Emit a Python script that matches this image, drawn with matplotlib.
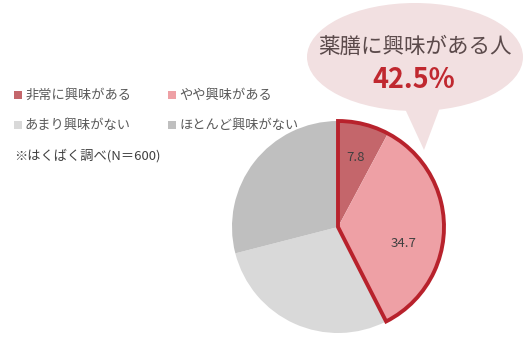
import matplotlib.pyplot as plt
from matplotlib.patches import Wedge, Ellipse, Polygon, Rectangle
import numpy as np

plt.rcParams['font.family'] = ['Noto Sans CJK JP', 'DejaVu Sans']

# data
categories = ["非常に興味がある", "やや興味がある", "あまり興味がない", "ほとんど興味がない"]
values = [7.8, 34.7, 28.5, 29.0]
shown_labels = ["7.8", "34.7", "", ""]
colors = ["#c4666b", "#eea0a5", "#d9d9d9", "#bfbfbf"]
highlight_title = "薬膳に興味がある人"
highlight_value = values[0] + values[1]
note = "※はくばく調べ(N＝600)"

W, H = 527, 347
fig = plt.figure(figsize=(W / 100, H / 100), dpi=100)
ax = fig.add_axes([0, 0, 1, 1])

cx, cy, r = 338, H - 227, 106

# speech bubble (behind the pie)
ax.add_patch(Ellipse((415, H - 57), 216, 108, facecolor="#f2e0e1", edgecolor="none", zorder=0))
ax.add_patch(Polygon([(400, H - 98), (442, H - 102), (424, H - 150)],
                     closed=True, facecolor="#f2e0e1", edgecolor="none", zorder=0))
ax.text(415, H - 47, highlight_title, ha="center", va="center",
        fontsize=15.5, color="#5b4a4b", zorder=5)
ax.text(414, H - 80, f"{highlight_value:.1f}%", ha="center", va="center",
        fontsize=19.5, fontweight="bold", color="#c0282f", zorder=5)

wedges, _ = ax.pie(values, colors=colors, startangle=90, counterclock=False,
                   center=(cx, cy), radius=r, frame=True,
                   wedgeprops=dict(linewidth=0))
ax.set_xlim(0, W)
ax.set_ylim(0, H)
ax.set_aspect("equal")
ax.axis("off")

# value labels
offsets = [(0, 0), (-6, -16)]
start = 90
for i, v in enumerate(values):
    ang = start - v / 100 * 360 / 2
    start -= v / 100 * 360
    if shown_labels[i]:
        dist = 0.68 * r
        dx, dy = offsets[i]
        ax.text(cx + dist * np.cos(np.radians(ang)) + dx,
                cy + dist * np.sin(np.radians(ang)) + dy,
                shown_labels[i], ha="center", va="center", fontsize=9.5, color="#404040")

# outline of the "interested" share
ax.add_patch(Wedge((cx, cy), r, 90 - highlight_value / 100 * 360, 90,
                   fill=False, edgecolor="#b8222c", linewidth=2.8,
                   joinstyle="miter", zorder=4))

# legend
legend_pos = [(14, H - 95), (168, H - 95), (14, H - 125), (168, H - 125)]
for (lx, ly), lab, col in zip(legend_pos, categories, colors):
    ax.add_patch(Rectangle((lx, ly - 4), 8, 8, facecolor=col, edgecolor="none"))
    ax.text(lx + 11, ly, lab, ha="left", va="center", fontsize=9.5, color="#595959")
ax.text(14, H - 156, note, ha="left", va="center", fontsize=9.5, color="#404040")

fig.savefig("out.png", dpi=100)
